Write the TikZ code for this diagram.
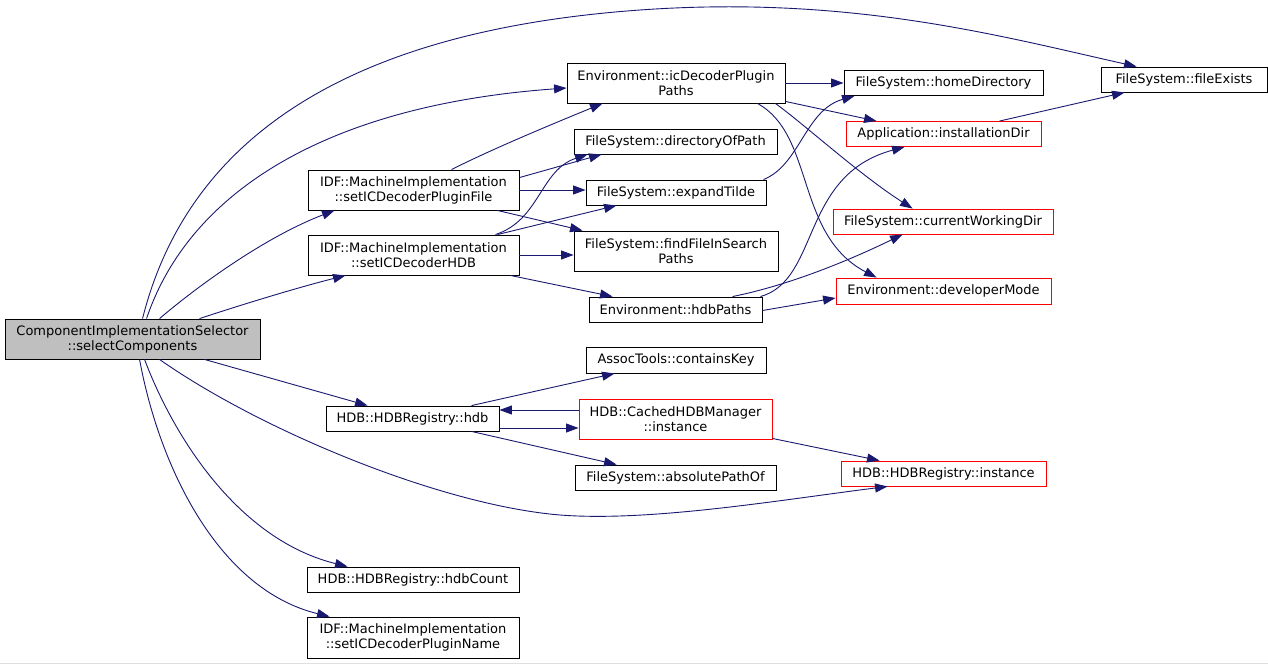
\documentclass[tikz,border=0pt]{standalone}
\usepackage{fontspec}
\setmainfont{DejaVu Sans}
\usetikzlibrary{arrows.meta,calc}
\definecolor{edgeblue}{RGB}{25,25,112}
\definecolor{rootgray}{RGB}{191,191,191}
\begin{document}
\begin{tikzpicture}[x=1pt, y=-1pt, >={Triangle[length=12.5pt,width=9pt]},
    fn/.style={draw=black, line width=0.9pt, inner sep=0pt, align=center,
        font=\fontsize{13}{15}\selectfont},
    fnred/.style={fn, draw=red},
    fnroot/.style={fn, fill=rootgray},
    call/.style={->, edgeblue, line width=0.9pt}]
\fill[white] (0,0) rectangle (1268,664);
\useasboundingbox (0,0) rectangle (1268,664);
\draw[gray!25, line width=1pt] (0,663.5)--(1268,663.5);
% functions
\node[fnroot, minimum width=255pt, minimum height=40pt] (main) at (132.5,339) {ComponentImplementationSelector\\::selectComponents};
\node[fn, minimum width=211pt, minimum height=40pt] (pfile) at (413.5,190) {IDF::MachineImplementation\\::setICDecoderPluginFile};
\node[fn, minimum width=211pt, minimum height=40pt] (dhdb) at (413.5,255) {IDF::MachineImplementation\\::setICDecoderHDB};
\node[fn, minimum width=173pt, minimum height=25pt] (hdb) at (412.5,418.5) {HDB::HDBRegistry::hdb};
\node[fn, minimum width=212pt, minimum height=25pt] (hdbcount) at (413,579.5) {HDB::HDBRegistry::hdbCount};
\node[fn, minimum width=212pt, minimum height=41pt] (pname) at (413,637.5) {IDF::MachineImplementation\\::setICDecoderPluginName};
\node[fn, minimum width=218pt, minimum height=40pt] (icpaths) at (676,83) {Environment::icDecoderPlugin\\Paths};
\node[fn, minimum width=203pt, minimum height=25pt] (dirpath) at (675.5,141.5) {FileSystem::directoryOfPath};
\node[fn, minimum width=180pt, minimum height=25pt] (tilde) at (676,192.5) {FileSystem::expandTilde};
\node[fn, minimum width=204pt, minimum height=40pt] (findfile) at (676,251) {FileSystem::findFileInSearch\\Paths};
\node[fn, minimum width=173pt, minimum height=25pt] (hdbpaths) at (675.5,309.5) {Environment::hdbPaths};
\node[fn, minimum width=180pt, minimum height=26pt] (ckey) at (676,360) {AssocTools::containsKey};
\node[fnred, minimum width=193pt, minimum height=40pt] (cached) at (675.5,419) {HDB::CachedHDBManager\\::instance};
\node[fn, minimum width=201pt, minimum height=25pt] (abspath) at (675.5,477.5) {FileSystem::absolutePathOf};
\node[fn, minimum width=199pt, minimum height=25pt] (homedir) at (943.5,83) {FileSystem::homeDirectory};
\node[fnred, minimum width=195pt, minimum height=25pt] (instdir) at (943.5,134) {Application::installationDir};
\node[fnred, minimum width=220pt, minimum height=25pt] (cwd) at (943,221.5) {FileSystem::currentWorkingDir};
\node[fnred, minimum width=215pt, minimum height=26pt] (devmode) at (943.5,291) {Environment::developerMode};
\node[fnred, minimum width=205pt, minimum height=25pt] (reginst) at (943.5,473.5) {HDB::HDBRegistry::instance};
\node[fn, minimum width=166pt, minimum height=25pt] (fexists) at (1184,79.5) {FileSystem::fileExists};
% calls from selectComponents
\draw[call] ($(main.north west)+(138,0)$) .. controls (190,130) and (360,30) .. (640,10)
    .. controls (850,-5) and (1000,36) .. ($(fexists.north west)+(36,0)$);
\draw[call] ($(main.north west)+(142,0)$) .. controls (190,190) and (330,105) .. ($(icpaths.west)+(0,5)$);
\draw[call] ($(main.north west)+(155,0)$) .. controls (205,280) and (270,235) .. ($(pfile.south west)+(27,0)$);
\draw[call] ($(main.north west)+(195,0)$) .. controls (250,302) and (300,287) .. ($(dhdb.south west)+(38,0)$);
\draw[call] ($(main.south west)+(200,0)$)--($(hdb.north west)+(42,0)$);
\draw[call] ($(main.south west)+(155,0)$) .. controls (260,430) and (440,505) .. (560,515)
    .. controls (650,522) and (780,500) .. ($(reginst.south west)+(47,0)$);
\draw[call] ($(main.south west)+(140,0)$) .. controls (175,440) and (240,540) .. ($(hdbcount.north west)+(41,0)$);
\draw[call] ($(main.south west)+(135,0)$) .. controls (160,470) and (220,590) .. ($(pname.north west)+(23,0)$);
% setICDecoderPluginFile
\draw[call] ($(pfile.north west)+(144,0)$) .. controls (490,150) and (550,125) .. ($(icpaths.south west)+(36,0)$);
\draw[call] ($(pfile.north east)+(0,8)$)--($(dirpath.south west)+(28,0)$);
\draw[call] (pfile.east)--(pfile.east -| tilde.west);
\draw[call] ($(pfile.south east)+(-22,0)$)--($(findfile.north west)+(9,0)$);
% setICDecoderHDB
\draw[call] ($(dhdb.north east)+(-24,0)$) .. controls (540,220) and (540,170) .. ($(dirpath.south west)+(14,0)$);
\draw[call] ($(dhdb.north east)+(-22,0)$)--($(tilde.south west)+(31,0)$);
\draw[call] (dhdb.east)--(dhdb.east -| findfile.west);
\draw[call] ($(dhdb.south east)+(-9,0)$)--($(hdbpaths.north west)+(24,0)$);
% icDecoderPluginPaths
\draw[call] (icpaths.east)--(icpaths.east -| homedir.west);
\draw[call] ($(icpaths.south east)+(0,-2)$)--($(instdir.north west)+(31,0)$);
\draw[call] ($(icpaths.south east)+(-10,0)$) .. controls (805,125) and (860,175) .. ($(cwd.north west)+(80,0)$);
\draw[call] ($(icpaths.south east)+(-28,0)$) .. controls (815,135) and (795,235) .. ($(devmode.north west)+(41,0)$);
% expandTilde, hdbPaths
\draw[call] ($(tilde.north east)+(-3,0)$) .. controls (800,165) and (805,110) .. ($(homedir.south west)+(11,0)$);
\draw[call] ($(hdbpaths.north east)+(-2,0)$) .. controls (820,280) and (800,175) .. ($(instdir.south west)+(59,0)$);
\draw[call] ($(hdbpaths.north west)+(144,0)$) .. controls (790,285) and (850,260) .. ($(cwd.south west)+(70,0)$);
\draw[call] ($(hdbpaths.east)+(0,1)$)--($(devmode.west)+(0,7)$);
\draw[call] ($(instdir.north west)+(154,0)$)--($(fexists.south west)+(24,0)$);
% hdb
\draw[call] ($(hdb.north west)+(146,0)$)--($(ckey.south west)+(29,0)$);
\draw[call] ($(cached.west)+(0,-9)$)--($(hdb.east)+(0,-8.5)$);
\draw[call] ($(hdb.east)+(0,9.5)$)--($(cached.west)+(0,9)$);
\draw[call] ($(hdb.south west)+(146,0)$)--($(abspath.north west)+(42,0)$);
\draw[call] ($(cached.south east)+(0,-1)$)--($(reginst.north west)+(39,0)$);
\end{tikzpicture}
\end{document}
